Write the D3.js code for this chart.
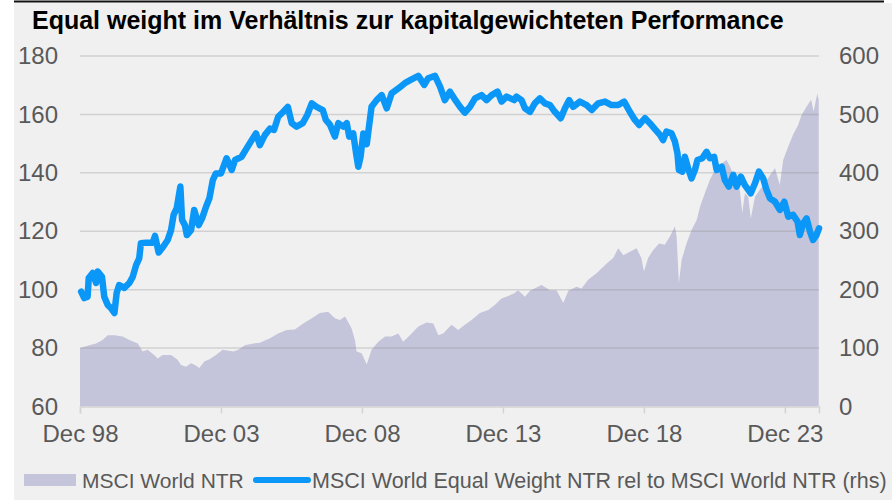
<!DOCTYPE html>
<html>
<head>
<meta charset="utf-8">
<script src="https://cdn.jsdelivr.net/npm/d3@7"></script>
<style>
  body { margin: 0; background: #ffffff; }
  text { font-family: "Liberation Sans", Arial, sans-serif; }
</style>
</head>
<body>
<svg id="chart" width="892" height="502"></svg>
<script>
// x values as decimal years
const TITLE = "Equal weight im Verhältnis zur kapitalgewichteten Performance";
const AREA_LABEL = "MSCI World NTR";
const LINE_LABEL = "MSCI World Equal Weight NTR rel to MSCI World NTR (rhs)";

const X_TICKS = [1999, 2004, 2009, 2014, 2019, 2024];
const X_TICK_LABELS = ["Dec 98", "Dec 03", "Dec 08", "Dec 13", "Dec 18", "Dec 23"];
const LEFT_TICKS = [60, 80, 100, 120, 140, 160, 180];
const RIGHT_TICKS = [0, 100, 200, 300, 400, 500, 600];

// MSCI World NTR (right axis, area)
const worldYears = [
  1999.00, 1999.33, 1999.57, 1999.80, 1999.98, 2000.22, 2000.51, 2000.75, 2001.05, 2001.22,
  2001.40, 2001.63, 2001.76, 2001.93, 2002.23, 2002.46, 2002.58, 2002.76, 2002.94, 2003.11,
  2003.23, 2003.41, 2003.59, 2003.82, 2004.06, 2004.44, 2004.61, 2004.85, 2005.15, 2005.38,
  2005.74, 2006.03, 2006.33, 2006.62, 2006.92, 2007.22, 2007.51, 2007.80, 2008.04, 2008.22,
  2008.40, 2008.63, 2008.75, 2008.81, 2008.99, 2009.17, 2009.34, 2009.58, 2009.82, 2010.05,
  2010.29, 2010.46, 2010.70, 2011.00, 2011.29, 2011.53, 2011.71, 2011.88, 2012.18, 2012.41,
  2012.65, 2012.89, 2013.18, 2013.48, 2013.72, 2013.95, 2014.19, 2014.40, 2014.54, 2014.78,
  2014.96, 2015.37, 2015.67, 2015.90, 2016.14, 2016.32, 2016.61, 2016.79, 2017.02, 2017.32,
  2017.68, 2017.91, 2018.09, 2018.27, 2018.50, 2018.74, 2018.91, 2019.00, 2019.15, 2019.33,
  2019.54, 2019.74, 2019.92, 2020.10, 2020.16, 2020.24, 2020.34, 2020.51, 2020.69, 2020.87,
  2020.99, 2021.16, 2021.34, 2021.52, 2021.76, 2021.93, 2022.05, 2022.23, 2022.40, 2022.49,
  2022.58, 2022.70, 2022.79, 2022.94, 2023.11, 2023.29, 2023.47, 2023.65, 2023.82, 2023.94,
  2024.12, 2024.29, 2024.47, 2024.59, 2024.77, 2024.93, 2025.02, 2025.15, 2025.20
];
const worldValues = [
  100, 105, 108, 114, 122, 122, 120, 114, 108, 94,
  97, 88, 82, 88, 88, 80, 71, 68, 74, 70,
  66, 77, 81, 88, 97, 94, 97, 105, 108, 109,
  117, 125, 131, 132, 142, 151, 160, 162, 151, 148,
  154, 134, 114, 94, 91, 72, 97, 111, 120, 120,
  125, 111, 122, 137, 144, 142, 122, 125, 140, 131,
  140, 148, 160, 165, 174, 185, 189, 194, 199, 188,
  198, 208, 199, 199, 177, 198, 205, 202, 217, 228,
  245, 254, 271, 259, 265, 271, 254, 231, 254, 268,
  279, 277, 291, 308, 291, 211, 251, 279, 302, 319,
  342, 365, 388, 405, 416, 422, 411, 388, 371, 331,
  365, 359, 322, 359, 371, 382, 396, 408, 379, 422,
  445, 465, 482, 499, 513, 525, 505, 536, 525
];

// Equal weight relative to cap weighted (left axis, line)
const relYears = [
  1999.04, 1999.15, 1999.27, 1999.31, 1999.45, 1999.57, 1999.63, 1999.78, 1999.86, 1999.98,
  2000.10, 2000.22, 2000.30, 2000.39, 2000.57, 2000.75, 2000.87, 2000.99, 2001.10, 2001.16,
  2001.34, 2001.58, 2001.66, 2001.79, 2001.95, 2002.11, 2002.23, 2002.32, 2002.43, 2002.56,
  2002.62, 2002.72, 2002.79, 2002.94, 2003.05, 2003.21, 2003.33, 2003.47, 2003.59, 2003.71,
  2003.82, 2004.00, 2004.20, 2004.38, 2004.50, 2004.73, 2004.91, 2005.09, 2005.24, 2005.38,
  2005.56, 2005.74, 2005.88, 2006.03, 2006.21, 2006.37, 2006.51, 2006.68, 2006.90, 2007.06,
  2007.22, 2007.39, 2007.61, 2007.72, 2007.87, 2008.04, 2008.16, 2008.34, 2008.46, 2008.55,
  2008.69, 2008.81, 2008.87, 2008.95, 2009.05, 2009.17, 2009.34, 2009.52, 2009.70, 2009.88,
  2010.05, 2010.29, 2010.52, 2010.76, 2011.00, 2011.21, 2011.35, 2011.59, 2011.77, 2011.94,
  2012.12, 2012.27, 2012.48, 2012.65, 2012.83, 2013.01, 2013.24, 2013.42, 2013.60, 2013.81,
  2013.95, 2014.13, 2014.40, 2014.48, 2014.66, 2014.78, 2014.96, 2015.13, 2015.31, 2015.49,
  2015.67, 2015.84, 2016.05, 2016.20, 2016.35, 2016.49, 2016.73, 2016.97, 2017.15, 2017.38,
  2017.62, 2017.85, 2018.09, 2018.30, 2018.50, 2018.68, 2018.83, 2019.04, 2019.21, 2019.39,
  2019.57, 2019.68, 2019.80, 2019.98, 2020.10, 2020.19, 2020.24, 2020.36, 2020.45, 2020.57,
  2020.69, 2020.81, 2020.90, 2021.07, 2021.22, 2021.34, 2021.49, 2021.58, 2021.76, 2021.87,
  2022.01, 2022.17, 2022.29, 2022.44, 2022.58, 2022.79, 2022.94, 2023.08, 2023.23, 2023.35,
  2023.47, 2023.65, 2023.82, 2023.98, 2024.12, 2024.29, 2024.45, 2024.53, 2024.65, 2024.77,
  2024.89, 2025.00, 2025.12, 2025.21
];
const relValues = [
  99.3, 97.1, 97.6, 104.0, 105.7, 102.3, 106.2, 104.4, 97.6, 94.8,
  93.7, 92.0, 98.9, 101.6, 100.6, 102.3, 104.4, 108.4, 110.7, 115.9,
  116.1, 116.1, 118.4, 112.7, 114.7, 117.0, 120.4, 125.6, 127.9, 135.3,
  123.9, 122.1, 118.7, 120.4, 127.3, 122.1, 124.4, 128.4, 131.3, 137.5,
  139.8, 139.8, 145.0, 141.0, 144.4, 145.5, 148.4, 151.2, 153.5, 149.5,
  153.0, 155.2, 154.7, 159.2, 160.9, 162.6, 157.0, 155.8, 157.0, 159.8,
  163.8, 162.6, 161.5, 158.1, 156.4, 152.4, 157.0, 155.8, 157.0, 152.4,
  153.5, 145.5, 142.1, 145.5, 153.5, 149.8, 162.6, 164.9, 166.6, 162.1,
  167.2, 168.9, 170.7, 172.0, 173.2, 170.1, 172.4, 173.2, 169.5, 164.9,
  167.8, 165.5, 162.6, 160.6, 162.6, 165.5, 166.6, 164.9, 166.6, 167.8,
  164.4, 166.1, 164.9, 166.1, 164.9, 162.1, 160.9, 163.8, 165.5, 163.8,
  163.2, 160.9, 158.7, 162.1, 164.9, 162.6, 164.4, 163.2, 161.5, 163.8,
  164.4, 163.2, 163.2, 164.4, 160.9, 158.1, 156.4, 158.7, 157.0, 155.0,
  153.0, 151.2, 154.1, 153.5, 150.7, 146.7, 141.0, 140.4, 145.5, 141.5,
  138.1, 141.0, 144.4, 145.0, 147.2, 145.0, 145.5, 141.0, 142.1, 137.5,
  135.3, 139.3, 135.3, 138.7, 135.8, 133.0, 136.4, 140.4, 138.1, 134.1,
  131.3, 130.1, 127.3, 130.1, 125.0, 125.6, 123.3, 118.7, 122.7, 124.4,
  119.9, 117.0, 118.7, 121.0
];

const PLOT_LEFT = 80;
const PLOT_RIGHT = 819;
const PLOT_TOP = 56;
const PLOT_BOTTOM = 406.5;

const AREA_COLOR = "#c4c4da";
const LINE_COLOR = "#0a97f7";
const TEXT_COLOR = "#595959";
const AXIS_FONT = 24;

const svg = d3.select("#chart");

// panel background and the rule above the title
svg.append("rect")
    .attr("x", 14).attr("y", 3)
    .attr("width", 878).attr("height", 497)
    .attr("fill", "#f0f0f0");
svg.append("line")
    .attr("x1", 14).attr("x2", 884)
    .attr("y1", 1.5).attr("y2", 1.5)
    .attr("stroke", "#111").attr("stroke-width", 2);

svg.append("text")
    .attr("x", 32).attr("y", 29)
    .attr("font-size", 25).attr("font-weight", "bold")
    .attr("fill", "#000")
    .text(TITLE);

const xScale = d3.scaleLinear()
    .domain([1999, 2025.21])
    .range([PLOT_LEFT, PLOT_RIGHT]);
const yLeft = d3.scaleLinear()
    .domain([60, 180])
    .range([PLOT_BOTTOM, PLOT_TOP]);
const yRight = d3.scaleLinear()
    .domain([0, 600])
    .range([PLOT_BOTTOM, PLOT_TOP]);

// area first, grid drawn over it with transparency
const worldData = worldYears.map((yr, i) => [yr, worldValues[i]]);
const relData = relYears.map((yr, i) => [yr, relValues[i]]);

svg.append("path")
    .datum(worldData)
    .attr("fill", AREA_COLOR)
    .attr("d", d3.area()
        .x(d => xScale(d[0]))
        .y0(yRight(0))
        .y1(d => yRight(d[1])));

svg.append("g")
    .selectAll("line")
    .data(LEFT_TICKS.slice(1))
    .join("line")
    .attr("x1", PLOT_LEFT).attr("x2", PLOT_RIGHT)
    .attr("y1", d => yLeft(d)).attr("y2", d => yLeft(d))
    .attr("stroke", "#8c8c8c")
    .attr("stroke-opacity", 0.3)
    .attr("stroke-width", 1.5);

// bottom axis: base line, short ticks and labels
const xAxis = svg.append("g")
    .attr("transform", `translate(0, ${PLOT_BOTTOM})`)
    .call(d3.axisBottom(xScale)
        .tickValues(X_TICKS)
        .tickSize(7)
        .tickPadding(11)
        .tickFormat((d, i) => X_TICK_LABELS[i]));
xAxis.select(".domain").attr("stroke", "#d4d4d4").attr("stroke-width", 1.5);
xAxis.selectAll(".tick line").attr("stroke", "#d4d4d4").attr("stroke-width", 1.5);
xAxis.selectAll(".tick text")
    .attr("fill", TEXT_COLOR)
    .attr("font-size", AXIS_FONT)
    .attr("font-family", "Liberation Sans, Arial, sans-serif");

const leftAxis = svg.append("g")
    .attr("transform", `translate(${PLOT_LEFT}, 0)`)
    .call(d3.axisLeft(yLeft).tickValues(LEFT_TICKS).tickSize(0).tickPadding(22));
leftAxis.select(".domain").remove();
leftAxis.selectAll(".tick text")
    .attr("fill", TEXT_COLOR)
    .attr("font-size", AXIS_FONT)
    .attr("font-family", "Liberation Sans, Arial, sans-serif");

const rightAxis = svg.append("g")
    .attr("transform", `translate(${PLOT_RIGHT}, 0)`)
    .call(d3.axisRight(yRight).tickValues(RIGHT_TICKS).tickSize(0).tickPadding(20));
rightAxis.select(".domain").remove();
rightAxis.selectAll(".tick text")
    .attr("fill", TEXT_COLOR)
    .attr("font-size", AXIS_FONT)
    .attr("font-family", "Liberation Sans, Arial, sans-serif");

svg.append("path")
    .datum(relData)
    .attr("fill", "none")
    .attr("stroke", LINE_COLOR)
    .attr("stroke-width", 6.5)
    .attr("stroke-linejoin", "round")
    .attr("stroke-linecap", "round")
    .attr("d", d3.line()
        .x(d => xScale(d[0]))
        .y(d => yLeft(d[1])));

// legend
const legend = svg.append("g").attr("transform", "translate(0, 480)");
legend.append("rect")
    .attr("x", 24).attr("y", -6)
    .attr("width", 52).attr("height", 12)
    .attr("fill", AREA_COLOR);
legend.append("text")
    .attr("x", 82).attr("y", 7.5)
    .attr("font-size", 21).attr("fill", TEXT_COLOR)
    .text(AREA_LABEL);
legend.append("line")
    .attr("x1", 256).attr("x2", 308)
    .attr("y1", 0).attr("y2", 0)
    .attr("stroke", LINE_COLOR).attr("stroke-width", 6)
    .attr("stroke-linecap", "round");
legend.append("text")
    .attr("x", 312).attr("y", 7.5)
    .attr("font-size", 21.5).attr("fill", TEXT_COLOR)
    .text(LINE_LABEL);
</script>
</body>
</html>
